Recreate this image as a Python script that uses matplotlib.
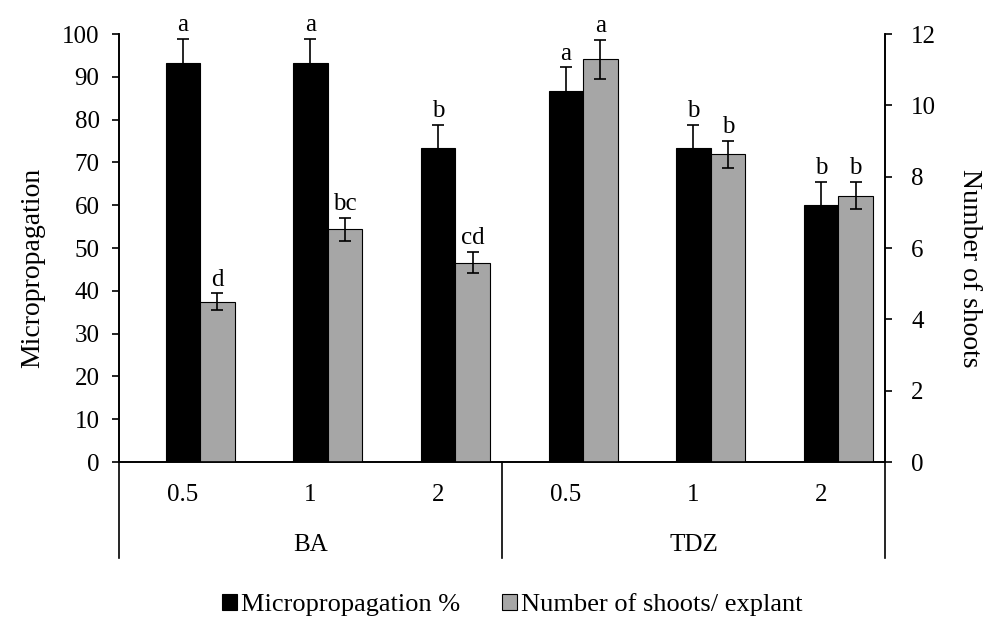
import numpy as np
import matplotlib.pyplot as plt
import matplotlib.transforms as mtransforms

plt.rcParams['font.family'] = ['Liberation Serif', 'DejaVu Serif']

doses = ["0.5", "1", "2", "0.5", "1", "2"]
groups = ["BA", "TDZ"]
microprop = [93.3, 93.3, 73.3, 86.7, 73.3, 60.0]
microprop_err = [5.5, 5.5, 5.4, 5.5, 5.5, 5.5]
microprop_letters = ["a", "a", "b", "a", "b", "b"]
shoots = [4.5, 6.52, 5.59, 11.29, 8.63, 7.47]
shoots_err = [0.23, 0.33, 0.3, 0.55, 0.38, 0.38]
shoots_letters = ["d", "bc", "cd", "a", "b", "b"]

fs = 18
grey = "#a6a6a6"
w = 0.27

fig = plt.figure(figsize=(9.89, 6.21), dpi=100)
ax = fig.add_axes([0.1203, 0.256, 0.7745, 0.6892])
ax2 = ax.twinx()

x = np.arange(len(doses))
ax.bar(x, microprop, w, color="black", edgecolor="black", linewidth=0.8, zorder=2)
ax.errorbar(x, microprop, yerr=microprop_err, fmt="none", ecolor="black",
            elinewidth=1.2, capsize=4, capthick=1.2, zorder=3)
ax2.bar(x + w, shoots, w, color=grey, edgecolor="black", linewidth=0.8, zorder=2)
ax2.errorbar(x + w, shoots, yerr=shoots_err, fmt="none", ecolor="black",
             elinewidth=1.2, capsize=4, capthick=1.2, zorder=3)

for i in range(len(doses)):
    ax.annotate(microprop_letters[i], (x[i], microprop[i] + microprop_err[i]),
                xytext=(0, 2), textcoords="offset points", ha="center", va="bottom",
                fontsize=fs)
    ax2.annotate(shoots_letters[i], (x[i] + w, shoots[i] + shoots_err[i]),
                 xytext=(0, 2), textcoords="offset points", ha="center", va="bottom",
                 fontsize=fs)

ax.set_xlim(-0.5, 5.5)
ax.set_ylim(0, 100)
ax.set_yticks(np.arange(0, 101, 10))
ax2.set_ylim(0, 12)
ax2.set_yticks(np.arange(0, 13, 2))
for a in (ax, ax2):
    a.spines["top"].set_visible(False)
    for s in a.spines.values():
        s.set_linewidth(1.2)
ax.tick_params(axis="y", labelsize=fs, direction="out", length=5, width=1.2, pad=9)
ax2.tick_params(axis="y", labelsize=fs, direction="out", length=5, width=1.2, pad=14)
ax.set_xticks([])
ax.text(-0.112, 0.453, "Micropropagation", transform=ax.transAxes, rotation=90,
        ha="center", va="center", fontsize=20)
ax.text(1.111, 0.453, "Number of shoots", transform=ax.transAxes, rotation=270,
        ha="center", va="center", fontsize=20)

# category axis below the plot
trans = mtransforms.blended_transform_factory(ax.transData, ax.transAxes)
for i, d in enumerate(doses):
    ax.text(i, -0.077, d, transform=trans, ha="center", va="center", fontsize=fs)
for j, g in enumerate(groups):
    ax.text(j * 3 + 1, -0.194, g, transform=trans, ha="center", va="center", fontsize=fs)
for xv in (-0.5, 2.5, 5.5):
    ax.plot([xv, xv], [0, -0.224], transform=trans, color="black", lw=1.2, clip_on=False)

h1 = plt.Rectangle((0, 0), 1, 1, fc="black", ec="black", lw=0.8)
h2 = plt.Rectangle((0, 0), 1, 1, fc=grey, ec="black", lw=0.8)
fig.legend([h1, h2], ["Micropropagation %", "Number of shoots/ explant"],
           loc="center", bbox_to_anchor=(0.518, 0.026), ncol=2, frameon=False,
           fontsize=19, handlelength=0.55, handleheight=0.55, handletextpad=0.15,
           columnspacing=1.6)

fig.savefig("out.png", dpi=100)
